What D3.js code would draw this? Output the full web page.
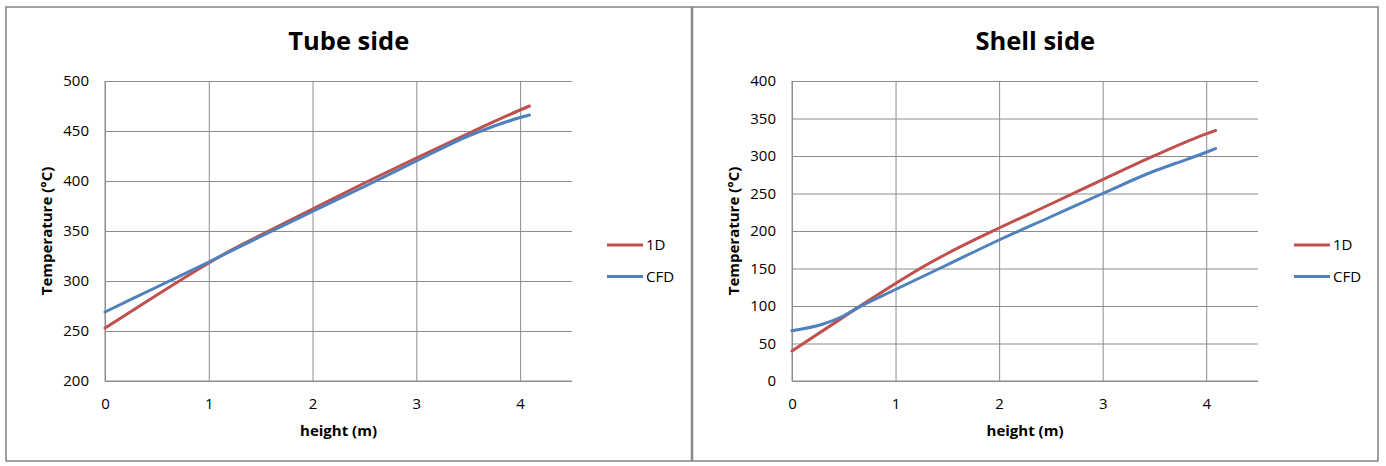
<!DOCTYPE html>
<html>
<head>
<meta charset="utf-8">
<script src="https://cdn.jsdelivr.net/npm/d3@7"></script>
<style>
  html, body { margin: 0; padding: 0; background: #fff; }
  svg { display: block; }
  text { font-family: "Open Sans", "Noto Sans", sans-serif; fill: #000; }
</style>
</head>
<body>
<svg id="chart" width="1386" height="466"></svg>
<script>
// ---- Data ----
const seriesNames = ["1D", "CFD"];
const xTicks = [0, 1, 2, 3, 4];

const tubeTitle = "Tube side";
const tubeYTicks = [200, 250, 300, 350, 400, 450, 500];
const tube1DX  = [0, 0.5, 1, 1.2, 1.5, 2, 2.5, 3, 3.5, 4, 4.09];
const tube1DY  = [253, 286, 318, 330, 346, 372, 398, 423, 447.5, 471, 475];
const tubeCFDX = [0, 0.5, 1, 1.5, 2, 2.5, 3, 3.5, 3.7, 4, 4.09];
const tubeCFDY = [269, 294, 319, 344.5, 369.5, 394.5, 420, 445, 453, 463.5, 466];

const shellTitle = "Shell side";
const shellYTicks = [0, 50, 100, 150, 200, 250, 300, 350, 400];
const shell1DX  = [0, 0.5, 0.62, 1, 1.2, 1.5, 2, 2.5, 3, 3.5, 4, 4.09];
const shell1DY  = [40, 85.5, 96.5, 130, 147, 170, 204, 236, 268.5, 300.5, 329.5, 334];
const shellCFDX = [0, 0.3, 0.5, 0.62, 1, 1.5, 2, 2.5, 3, 3.5, 3.7, 4, 4.09];
const shellCFDY = [67, 76, 87, 96.5, 122, 155, 188, 219, 250, 280, 290, 305, 310];

const colors = ["#C0504D", "#4F81BD"];

const svg = d3.select("#chart");

function drawPanel(cfg) {
  const g = svg.append("g");
  // panel border
  g.append("rect")
    .attr("x", cfg.px0).attr("y", 7)
    .attr("width", cfg.px1 - cfg.px0).attr("height", 454)
    .attr("fill", "#fff").attr("stroke", "#8a8a8a").attr("stroke-width", 1.6);

  const x = d3.scaleLinear().domain([0, 4.5]).range([cfg.left, cfg.right]);
  const y = d3.scaleLinear().domain(cfg.yDomain).range([381, 81]);

  // horizontal gridlines + y labels
  const yAxis = d3.axisLeft(y).tickValues(cfg.yTicks)
    .tickSize(-(cfg.right - cfg.left)).tickPadding(16).tickFormat(d3.format("d"));
  const ya = g.append("g").attr("transform", `translate(${cfg.left},0)`).call(yAxis);
  ya.select(".domain").remove();
  ya.selectAll(".tick line").attr("stroke", "#8c8c8c").attr("stroke-width", 1);
  ya.selectAll(".tick text").attr("font-size", 15).attr("fill", "#000");

  // vertical gridlines + x labels
  const xAxis = d3.axisBottom(x).tickValues(xTicks)
    .tickSize(-(381 - 81)).tickPadding(17).tickFormat(d3.format("d"));
  const xa = g.append("g").attr("transform", `translate(0,381)`).call(xAxis);
  xa.select(".domain").remove();
  xa.selectAll(".tick line").attr("stroke", "#8c8c8c").attr("stroke-width", 1);
  xa.selectAll(".tick text").attr("font-size", 15).attr("fill", "#000");

  // axis lines
  g.append("line").attr("x1", cfg.left).attr("x2", cfg.left).attr("y1", 81).attr("y2", 381)
    .attr("stroke", "#8c8c8c").attr("stroke-width", 1);
  g.append("line").attr("x1", cfg.left).attr("x2", cfg.right).attr("y1", 381).attr("y2", 381)
    .attr("stroke", "#8c8c8c").attr("stroke-width", 1);

  // series lines
  const line = d3.line().x(d => x(d[0])).y(d => y(d[1])).curve(d3.curveMonotoneX);
  cfg.series.forEach((s, i) => {
    const pts = s.x.map((v, j) => [v, s.y[j]]);
    g.append("path").datum(pts).attr("d", line)
      .attr("fill", "none").attr("stroke", colors[i]).attr("stroke-width", 3)
      .attr("stroke-linejoin", "round").attr("stroke-linecap", "round");
  });

  // title
  g.append("text").attr("x", (cfg.px0 + cfg.px1) / 2).attr("y", 50)
    .attr("text-anchor", "middle").attr("font-size", 25.5).attr("font-weight", "bold")
    .text(cfg.title);

  // axis titles
  g.append("text").attr("x", (cfg.left + cfg.right) / 2).attr("y", 436)
    .attr("text-anchor", "middle").attr("font-size", 15).attr("font-weight", "bold")
    .text("height (m)");
  g.append("text").attr("transform", `translate(${cfg.left - 53},231) rotate(-90)`)
    .attr("text-anchor", "middle").attr("font-size", 15).attr("font-weight", "bold")
    .text("Temperature (°C)");

  // legend
  seriesNames.forEach((name, i) => {
    const ly = 245 + i * 31.5;
    g.append("line").attr("x1", cfg.legX).attr("x2", cfg.legX + 36)
      .attr("y1", ly).attr("y2", ly)
      .attr("stroke", colors[i]).attr("stroke-width", 3);
    g.append("text").attr("x", cfg.legX + 39).attr("y", ly).attr("dy", "0.36em")
      .attr("font-size", 15).text(name);
  });
}

drawPanel({
  px0: 6, px1: 691.5, left: 105, right: 572, yDomain: [200, 500], yTicks: tubeYTicks,
  title: tubeTitle, legX: 607,
  series: [{x: tube1DX, y: tube1DY}, {x: tubeCFDX, y: tubeCFDY}]
});
drawPanel({
  px0: 692.5, px1: 1378, left: 792, right: 1258, yDomain: [0, 400], yTicks: shellYTicks,
  title: shellTitle, legX: 1294,
  series: [{x: shell1DX, y: shell1DY}, {x: shellCFDX, y: shellCFDY}]
});
</script>
</body>
</html>
